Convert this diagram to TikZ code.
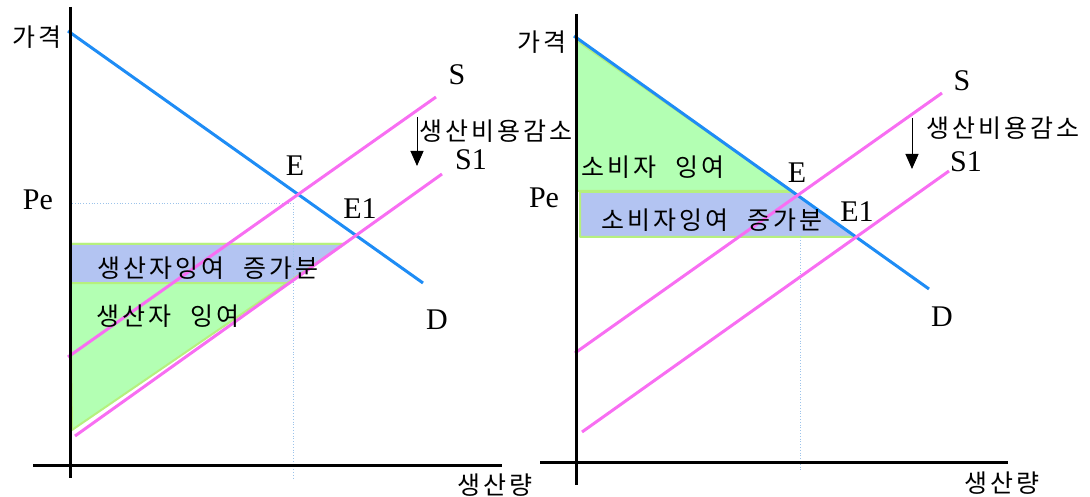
\documentclass[tikz,border=0pt]{standalone}
\usepackage{fontspec}
\setmainfont{Liberation Serif}
\newfontfamily\kor[LetterSpace=12, WordSpace=2.2]{Noto Sans CJK KR}
\usetikzlibrary{arrows.meta,positioning}
\definecolor{dline}{HTML}{1E8CF5}
\definecolor{sline}{HTML}{F86EF2}
\definecolor{guide}{HTML}{9CC3EA}
\definecolor{surplus}{HTML}{B3FFB3}
\definecolor{gain}{HTML}{B3C4F2}
\definecolor{edge}{HTML}{B6F07E}
\tikzset{
  axis/.style={line width=3pt, draw=black},
  demand/.style={line width=3pt, draw=dline},
  supply/.style={line width=3pt, draw=sline},
  guideline/.style={dotted, line width=0.8pt, draw=guide},
  greenarea/.style={fill=surplus, draw=edge, line width=2pt, line join=round},
  bluearea/.style={fill=gain, draw=edge, line width=2pt, line join=round},
  lbl/.style={font=\fontsize{30}{30}\selectfont, inner sep=0pt},
  ktxt/.style={font=\kor\fontsize{25}{25}\selectfont, inner sep=0pt},
  shiftar/.style={-{Triangle[width=13pt, length=15pt]}, line width=1pt}
}

\begin{document}
\begin{tikzpicture}[x=1pt,y=-1pt]
  \useasboundingbox (0,0) rectangle (1090,497);

  % left: producer surplus
  \coordinate (lYtop) at (70,7);   \coordinate (lYbot) at (70,478);
  \coordinate (lXl) at (33,465);   \coordinate (lXr) at (502,465);
  \coordinate (lD0) at (68,31);    \coordinate (lD1) at (423,283);
  \coordinate (lS0) at (68,357);   \coordinate (lS1) at (436,97);
  \coordinate (lT0) at (75,436);   \coordinate (lT1) at (442,174);

  \draw[greenarea] (70,244) -- (344,244) -- (72,430) -- cycle;
  \draw[bluearea] (70,244) -- (344,244) -- (287,283) -- (70,283) -- cycle;

  \coordinate (lPe) at (72,203);  \coordinate (lE) at (293,203);
  \coordinate (lQ) at (293,478);
  \draw[guideline] (lPe) -- (lE) -- (lQ);

  \draw[demand] (lD0) -- (lD1);
  \draw[supply] (lS0) -- (lS1);
  \draw[supply] (lT0) -- (lT1);
  \draw[axis] (lYtop) -- (lYbot);
  \draw[axis] (lXl) -- (lXr);

  \coordinate (lA0) at (417,117);  \coordinate (lA1) at (417,166);
  \draw[shiftar] (lA0) -- (lA1);

  \node[ktxt, anchor=east] (lprice) at (62,37) {가격};
  \node[lbl] (lpe) at (38,200) {Pe};
  \node[lbl] (lslab) at (457,75) {S};
  \node[lbl] (ls1lab) at (471,160) {S1};
  \node[lbl] (lelab) at (295,166) {E};
  \node[lbl] (le1lab) at (360,209) {E1};
  \node[lbl] (ldlab) at (437,320) {D};
  \node[ktxt, anchor=west] (lcost) at (419,131) {생산비용감소};
  \node[ktxt, anchor=west] (lgain) at (97,268) {생산자잉여 증가분};
  \node[ktxt, anchor=west] (lsurp) at (96,316) {생산자 잉여};
  \node[ktxt] (lqty) at (495,485) {생산량};

  % right: consumer surplus
  \coordinate (rYtop) at (576,14);  \coordinate (rYbot) at (576,485);
  \coordinate (rXl) at (540,462);   \coordinate (rXr) at (1008,462);
  \coordinate (rD0) at (574,36);    \coordinate (rD1) at (929,289);
  \coordinate (rS0) at (575,353);   \coordinate (rS1) at (942,93);
  \coordinate (rT0) at (582,432);   \coordinate (rT1) at (949,171);

  \draw[greenarea] (576,40) -- (792,191) -- (576,191) -- cycle;
  \draw[bluearea] (580,192) -- (793,192) -- (856,237) -- (580,237) -- cycle;

  \coordinate (rE) at (800,237);  \coordinate (rQ) at (800,472);
  \draw[guideline] (rE) -- (rQ);

  \draw[demand] (rD0) -- (rD1);
  \draw[supply] (rS0) -- (rS1);
  \draw[supply] (rT0) -- (rT1);
  \draw[axis] (rYtop) -- (rYbot);
  \draw[axis] (rXl) -- (rXr);

  \coordinate (rA0) at (912,118);  \coordinate (rA1) at (912,169);
  \draw[shiftar] (rA0) -- (rA1);

  \node[ktxt, anchor=east] (rprice) at (567,42) {가격};
  \node[lbl] (rpe) at (544,198) {Pe};
  \node[lbl] (rslab) at (962,81) {S};
  \node[lbl] (rs1lab) at (966,162) {S1};
  \node[lbl] (relab) at (797,173) {E};
  \node[lbl] (re1lab) at (857,212) {E1};
  \node[lbl] (rdlab) at (942,317) {D};
  \node[ktxt, anchor=west] (rcost) at (926,128) {생산비용감소};
  \node[ktxt, anchor=west] (rsurp) at (581,167) {소비자 잉여};
  \node[ktxt, anchor=west] (rgain) at (601,220) {소비자잉여 증가분};
  \node[ktxt] (rqty) at (1002,483) {생산량};
\end{tikzpicture}
\end{document}
